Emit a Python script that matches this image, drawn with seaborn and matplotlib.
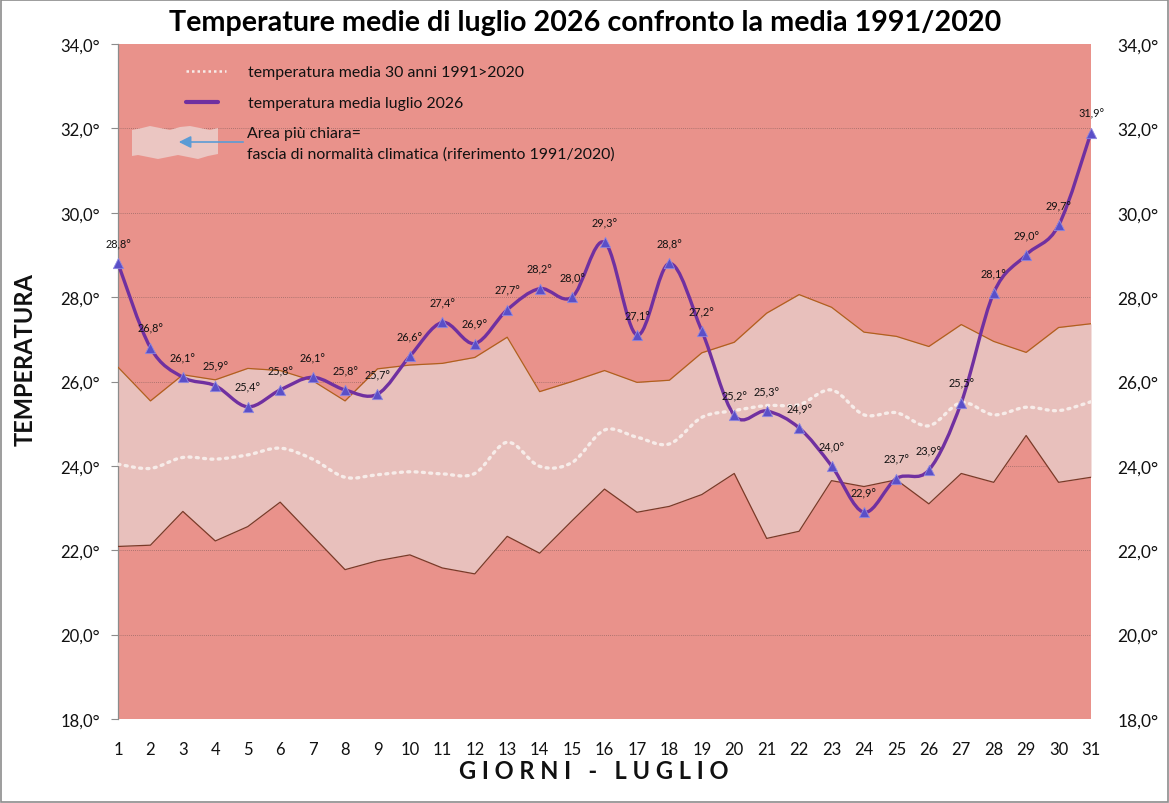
import numpy as np
import pandas as pd
import matplotlib
matplotlib.use("Agg")
import matplotlib.pyplot as plt
from matplotlib.path import Path
from matplotlib.patches import PathPatch, Polygon, Rectangle
import seaborn as sns

# ------------------ Data ------------------
days = list(range(1, 32))
temp_2026 = [28.8, 26.8, 26.1, 25.9, 25.4, 25.8, 26.1, 25.8, 25.7, 26.6,
             27.4, 26.9, 27.7, 28.2, 28.0, 29.3, 27.1, 28.8, 27.2, 25.2,
             25.3, 24.9, 24.0, 22.9, 23.7, 23.9, 25.5, 28.1, 29.0, 29.7, 31.9]
mean_1991_2020 = [24.04, 23.94, 24.20, 24.16, 24.26, 24.42, 24.16, 23.73, 23.79, 23.86,
                  23.81, 23.82, 24.56, 23.99, 24.08, 24.85, 24.68, 24.52, 25.15, 25.31,
                  25.43, 25.45, 25.80, 25.21, 25.26, 24.95, 25.50, 25.21, 25.39, 25.31, 25.52]
upper_band = [26.34, 25.54, 26.16, 26.04, 26.31, 26.26, 26.02, 25.54, 26.30, 26.39,
              26.43, 26.57, 27.05, 25.76, 26.00, 26.26, 25.98, 26.03, 26.68, 26.93,
              27.62, 28.06, 27.76, 27.17, 27.07, 26.83, 27.35, 26.95, 26.69, 27.28, 27.37]
lower_band = [22.09, 22.12, 22.92, 22.22, 22.56, 23.14, 22.34, 21.54, 21.75, 21.89,
              21.58, 21.44, 22.33, 21.93, 22.70, 23.45, 22.90, 23.04, 23.32, 23.82,
              22.28, 22.45, 23.65, 23.51, 23.67, 23.10, 23.82, 23.61, 24.72, 23.61, 23.73]
y_ticks = [18, 20, 22, 24, 26, 28, 30, 32, 34]

df = pd.DataFrame({"giorno": days, "t2026": temp_2026, "media": mean_1991_2020,
                   "sup": upper_band, "inf": lower_band})

BG = "#e9928b"
BAND = "#e8c0bc"
PURPLE = "#7030a0"


def smooth_path(x, y):
    # Excel-like smoothed line: cubic Bezier through every point
    x = np.asarray(x, float)
    y = np.asarray(y, float)
    verts = [(x[0], y[0])]
    codes = [Path.MOVETO]
    n = len(x)
    for i in range(n - 1):
        x0, y0 = (x[i - 1], y[i - 1]) if i > 0 else (x[i], y[i])
        x3, y3 = (x[i + 2], y[i + 2]) if i + 2 < n else (x[i + 1], y[i + 1])
        c1 = (x[i] + (x[i + 1] - x0) / 6, y[i] + (y[i + 1] - y0) / 6)
        c2 = (x[i + 1] - (x3 - x[i]) / 6, y[i + 1] - (y3 - y[i]) / 6)
        verts += [c1, c2, (x[i + 1], y[i + 1])]
        codes += [Path.CURVE4] * 3
    return Path(verts, codes)


def fmt(t):
    return f"{t:.1f}°".replace(".", ",")


sns.set_theme(style="white")
plt.rcParams["font.family"] = ["Lato", "DejaVu Sans"]

fig = plt.figure(figsize=(11.69, 8.04), dpi=100)
fig.patch.set_facecolor("white")
fig.add_artist(Rectangle((0.001, 0.001), 0.998, 0.998, transform=fig.transFigure,
                         fill=False, edgecolor="#8c8c8c", linewidth=1.2))

ax = fig.add_axes([118 / 1169, 84 / 804, 973 / 1169, 675 / 804])
ax.set_facecolor(BG)
ax.set_xlim(1, 31)
ax.set_ylim(18, 34)

# horizontal grid
for t in y_ticks[1:-1]:
    ax.axhline(t, color="#9a6a66", linewidth=0.6, linestyle=(0, (1, 1.5)), zorder=1)

# normal band
ax.fill_between(df["giorno"], df["inf"], df["sup"], color=BAND, linewidth=0, zorder=2)
sns.lineplot(data=df, x="giorno", y="sup", ax=ax, color="#b0601e", linewidth=0.9, zorder=3)
sns.lineplot(data=df, x="giorno", y="inf", ax=ax, color="#7a3a28", linewidth=0.9, zorder=3)

# 30 year mean (dotted, smoothed)
ax.add_patch(PathPatch(smooth_path(days, mean_1991_2020), fill=False, edgecolor="#f7ece9",
                       linewidth=2.4, linestyle=(0, (0.6, 1.6)), capstyle="round", zorder=4))

# july 2026 (smoothed) + markers
ax.add_patch(PathPatch(smooth_path(days, temp_2026), fill=False, edgecolor=PURPLE,
                       linewidth=2.4, zorder=5))
sns.scatterplot(data=df, x="giorno", y="t2026", ax=ax, marker="^", s=55,
                color="#5a4fc8", edgecolor="#8f88e0", linewidth=0.6, zorder=6, clip_on=False)

for d, t in zip(days, temp_2026):
    ax.annotate(fmt(t), (d, t), xytext=(0, 14),
                textcoords="offset points", ha="center", va="center",
                fontsize=7.8, color="#111111", zorder=7)

# axes styling
ax.set_xticks(days)
ax.set_xticklabels([str(d) for d in days], fontsize=12, color="#111111")
ax.set_yticks(y_ticks)
ax.set_yticklabels([fmt(t) for t in y_ticks], fontsize=12, color="#111111")
ax.tick_params(axis="y", which="both", left=True, length=5, width=0.8, color="#8c8c8c", pad=8)
ax.tick_params(axis="x", bottom=False, pad=10)
ax.set_xlabel("")
ax.set_ylabel("")
for side in ["top", "right", "bottom"]:
    ax.spines[side].set_visible(False)
ax.spines["left"].set_color("#8c8c8c")
ax.spines["left"].set_linewidth(0.9)

ax2 = ax.twinx()
ax2.set_ylim(18, 34)
ax2.set_yticks(y_ticks)
ax2.set_yticklabels([fmt(t) for t in y_ticks], fontsize=12.5, color="#111111")
ax2.tick_params(axis="y", right=False, pad=13)
for side in ["top", "left", "bottom", "right"]:
    ax2.spines[side].set_visible(False)
ax2.grid(False)

# legend drawn inside the plot
tr = ax.transAxes
def ax_xy(px, py):
    return ((px - 118) / 973, (720 - py) / 675)

x0, y0 = ax_xy(186, 72)
x1, _ = ax_xy(226, 72)
ax.plot([x0, x1], [y0, y0], transform=tr, color="#f7ece9", linewidth=1.8,
        linestyle=(0, (1, 1.2)), zorder=8)
ax.text(*ax_xy(248, 73), "temperatura media 30 anni 1991>2020", transform=tr,
        fontsize=11.4, va="center", ha="left", color="#111111", zorder=8)

x0, y0 = ax_xy(186, 103)
x1, _ = ax_xy(218, 103)
ax.plot([x0, x1], [y0, y0], transform=tr, color=PURPLE, linewidth=3, zorder=8)
ax.text(*ax_xy(248, 104), "temperatura media luglio 2026", transform=tr,
        fontsize=11.4, va="center", ha="left", color="#111111", zorder=8)

wave = [(132, 131), (142, 129), (150, 127), (160, 129), (170, 131), (180, 128), (190, 127),
        (200, 129), (210, 131), (218, 129), (218, 155), (208, 157), (198, 160), (188, 158),
        (178, 156), (168, 158), (158, 160), (148, 158), (138, 156), (132, 157)]
ax.add_patch(Polygon([ax_xy(px, py) for px, py in wave], closed=True, transform=tr,
                     facecolor="#ebc6c2", edgecolor="none", zorder=8))
ax.annotate("", xy=ax_xy(176, 143), xytext=ax_xy(246, 143), xycoords=tr, textcoords=tr,
            arrowprops=dict(arrowstyle="-|>,head_length=0.6,head_width=0.3",
                            color="#5b9bd5", linewidth=1.2), zorder=9)
ax.text(*ax_xy(247, 134), "Area più chiara=", transform=tr,
        fontsize=11.4, va="center", ha="left", color="#111111", zorder=8)
ax.text(*ax_xy(247, 155), "fascia di normalità climatica (riferimento 1991/2020)", transform=tr,
        fontsize=11.4, va="center", ha="left", color="#111111", zorder=8)

# titles
fig.text(585 / 1169, 1 - 23 / 804, "Temperature medie di luglio 2026 confronto la media 1991/2020",
         ha="center", va="center", fontsize=20.6, fontweight="bold", color="black")
fig.text(594 / 1169, 1 - 772 / 804, "G I O R N I   -   L U G L I O",
         ha="center", va="center", fontsize=17, fontweight="bold", color="#111111")
fig.text(25 / 1169, 1 - 360 / 804, "TEMPERATURA", rotation=90,
         ha="center", va="center", fontsize=17, fontweight="bold", color="#111111")

fig.savefig("out.png", dpi=100)
